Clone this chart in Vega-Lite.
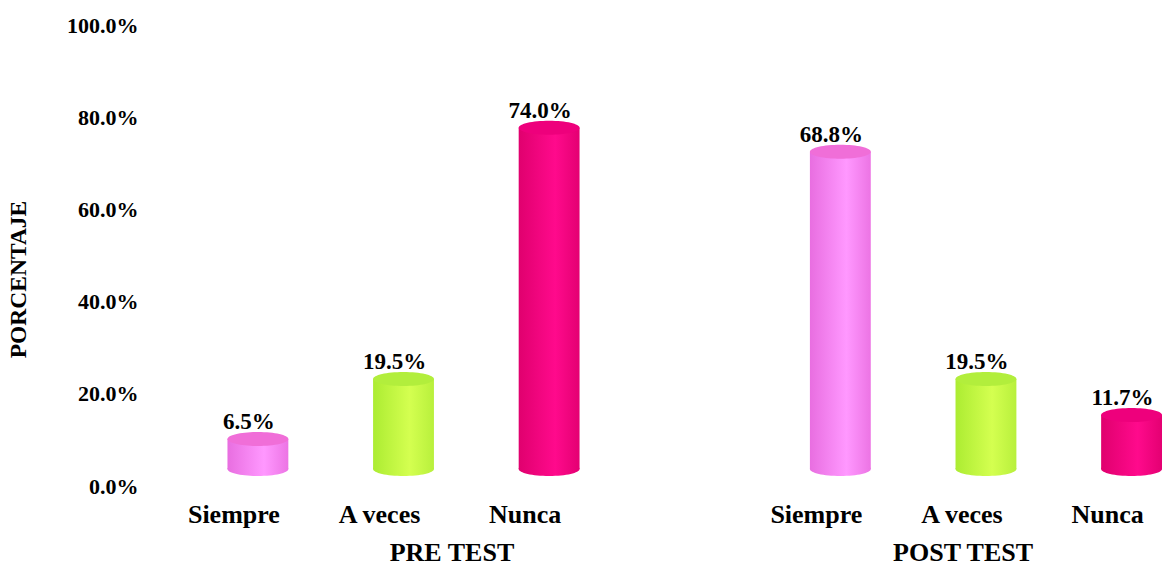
{
  "$schema": "https://vega.github.io/schema/vega-lite/v6.json",
  "width": 1012,
  "height": 461,
  "autosize": {"type": "none"},
  "padding": {"left": 150, "top": 25, "right": 0, "bottom": 80},
  "background": "white",
  "config": {"view": {"stroke": null}, "font": "Liberation Serif"},
  "data": {
    "values": [
      {"test": "PRE TEST", "category": "Siempre", "slot": "PRE|Siempre", "share": 0.065},
      {"test": "PRE TEST", "category": "A veces", "slot": "PRE|A veces", "share": 0.195},
      {"test": "PRE TEST", "category": "Nunca", "slot": "PRE|Nunca", "share": 0.74},
      {"test": "POST TEST", "category": "Siempre", "slot": "POST|Siempre", "share": 0.688},
      {"test": "POST TEST", "category": "A veces", "slot": "POST|A veces", "share": 0.195},
      {"test": "POST TEST", "category": "Nunca", "slot": "POST|Nunca", "share": 0.117}
    ]
  },
  "resolve": {
    "scale": {"x": "independent", "y": "independent"},
    "axis": {"x": "independent", "y": "independent"}
  },
  "layer": [
    {
      "mark": {"type": "rule", "strokeOpacity": 0},
      "encoding": {
        "y": {
          "field": "share",
          "type": "quantitative",
          "scale": {"domain": [0, 1], "nice": false},
          "axis": {
            "values": [0, 0.2, 0.4, 0.6, 0.8, 1],
            "format": ".1%",
            "labelFont": "Liberation Serif",
            "labelFontSize": 22,
            "labelFontWeight": "bold",
            "labelColor": "black",
            "labelPadding": 12,
            "ticks": false,
            "tickSize": 0,
            "domain": false,
            "grid": false,
            "title": "PORCENTAJE",
            "titleFont": "Liberation Serif",
            "titleFontSize": 23.5,
            "titleFontWeight": "bold",
            "titleColor": "black",
            "titlePadding": 36,
            "titleY": 254
          }
        }
      }
    },
    {
      "encoding": {
        "x": {
          "field": "slot",
          "type": "nominal",
          "sort": null,
          "scale": {
            "domain": ["PRE|Siempre", "PRE|A veces", "PRE|Nunca", "gap|", "POST|Siempre", "POST|A veces", "POST|Nunca"],
            "paddingInner": 0.582,
            "paddingOuter": 0.266,
            "align": 1
          },
          "axis": {
            "title": null,
            "labelExpr": "split(datum.label, '|')[1]",
            "labelFont": "Liberation Serif",
            "labelFontSize": 26,
            "labelFontWeight": "bold",
            "labelColor": "black",
            "labelAngle": 0,
            "labelPadding": 15,
            "labelOffset": -24,
            "ticks": false,
            "tickSize": 0,
            "domain": false,
            "grid": false
          }
        },
        "y": {
          "field": "share",
          "type": "quantitative",
          "scale": {"domain": [-0.037, 0.963], "nice": false, "zero": false},
          "axis": null
        }
      },
      "layer": [
        {
          "transform": [{"filter": "datum.category === 'Siempre'"}],
          "layer": [
            {
              "mark": {
                "type": "point", "filled": true, "opacity": 1, "strokeWidth": 0, "size": 3709,
                "shape": "M-1,0C-1,0.127,-0.552,0.23,0,0.23C0.552,0.23,1,0.127,1,0C1,-0.127,0.552,-0.23,0,-0.23C-0.552,-0.23,-1,-0.127,-1,0Z",
                "fill": {"gradient": "linear", "x1": 0, "x2": 1, "y1": 0, "y2": 0,
                  "stops": [{"offset": 0, "color": "#E86EE0"}, {"offset": 0.6, "color": "#FF98FF"}, {"offset": 1, "color": "#EC74E4"}]}
              },
              "encoding": {"y": {"datum": 0}}
            },
            {
              "mark": {
                "type": "bar",
                "fill": {"gradient": "linear", "x1": 0, "x2": 1, "y1": 0, "y2": 0,
                  "stops": [{"offset": 0, "color": "#E86EE0"}, {"offset": 0.6, "color": "#FF98FF"}, {"offset": 1, "color": "#EC74E4"}]}
              },
              "encoding": {"y2": {"datum": 0}}
            },
            {
              "mark": {
                "type": "point", "filled": true, "opacity": 1, "strokeWidth": 0, "size": 3709,
                "shape": "M-1,0C-1,0.127,-0.552,0.23,0,0.23C0.552,0.23,1,0.127,1,0C1,-0.127,0.552,-0.23,0,-0.23C-0.552,-0.23,-1,-0.127,-1,0Z",
                "fill": "#F06ED8"
              }
            }
          ]
        },
        {
          "transform": [{"filter": "datum.category === 'A veces'"}],
          "layer": [
            {
              "mark": {
                "type": "point", "filled": true, "opacity": 1, "strokeWidth": 0, "size": 3709,
                "shape": "M-1,0C-1,0.127,-0.552,0.23,0,0.23C0.552,0.23,1,0.127,1,0C1,-0.127,0.552,-0.23,0,-0.23C-0.552,-0.23,-1,-0.127,-1,0Z",
                "fill": {"gradient": "linear", "x1": 0, "x2": 1, "y1": 0, "y2": 0,
                  "stops": [{"offset": 0, "color": "#ACEC32"}, {"offset": 0.6, "color": "#D4FF50"}, {"offset": 1, "color": "#B8F03C"}]}
              },
              "encoding": {"y": {"datum": 0}}
            },
            {
              "mark": {
                "type": "bar",
                "fill": {"gradient": "linear", "x1": 0, "x2": 1, "y1": 0, "y2": 0,
                  "stops": [{"offset": 0, "color": "#ACEC32"}, {"offset": 0.6, "color": "#D4FF50"}, {"offset": 1, "color": "#B8F03C"}]}
              },
              "encoding": {"y2": {"datum": 0}}
            },
            {
              "mark": {
                "type": "point", "filled": true, "opacity": 1, "strokeWidth": 0, "size": 3709,
                "shape": "M-1,0C-1,0.127,-0.552,0.23,0,0.23C0.552,0.23,1,0.127,1,0C1,-0.127,0.552,-0.23,0,-0.23C-0.552,-0.23,-1,-0.127,-1,0Z",
                "fill": "#B2EE3C"
              }
            }
          ]
        },
        {
          "transform": [{"filter": "datum.category === 'Nunca'"}],
          "layer": [
            {
              "mark": {
                "type": "point", "filled": true, "opacity": 1, "strokeWidth": 0, "size": 3709,
                "shape": "M-1,0C-1,0.127,-0.552,0.23,0,0.23C0.552,0.23,1,0.127,1,0C1,-0.127,0.552,-0.23,0,-0.23C-0.552,-0.23,-1,-0.127,-1,0Z",
                "fill": {"gradient": "linear", "x1": 0, "x2": 1, "y1": 0, "y2": 0,
                  "stops": [{"offset": 0, "color": "#E0006E"}, {"offset": 0.6, "color": "#FF0A8C"}, {"offset": 1, "color": "#E40072"}]}
              },
              "encoding": {"y": {"datum": 0}}
            },
            {
              "mark": {
                "type": "bar",
                "fill": {"gradient": "linear", "x1": 0, "x2": 1, "y1": 0, "y2": 0,
                  "stops": [{"offset": 0, "color": "#E0006E"}, {"offset": 0.6, "color": "#FF0A8C"}, {"offset": 1, "color": "#E40072"}]}
              },
              "encoding": {"y2": {"datum": 0}}
            },
            {
              "mark": {
                "type": "point", "filled": true, "opacity": 1, "strokeWidth": 0, "size": 3709,
                "shape": "M-1,0C-1,0.127,-0.552,0.23,0,0.23C0.552,0.23,1,0.127,1,0C1,-0.127,0.552,-0.23,0,-0.23C-0.552,-0.23,-1,-0.127,-1,0Z",
                "fill": "#EE007C"
              }
            }
          ]
        },
        {
          "mark": {
            "type": "text",
            "font": "Liberation Serif",
            "fontSize": 23,
            "fontWeight": "bold",
            "color": "black",
            "baseline": "alphabetic",
            "dx": -9,
            "dy": -10
          },
          "encoding": {"text": {"field": "share", "type": "quantitative", "format": ".1%"}}
        }
      ]
    },
    {
      "mark": {"type": "rule", "strokeOpacity": 0},
      "encoding": {
        "x": {
          "field": "test",
          "type": "nominal",
          "sort": null,
          "scale": {"domain": ["PRE TEST", "POST TEST"], "paddingInner": 0.5, "paddingOuter": 0.24, "align": 0.71},
          "axis": {
            "orient": "bottom",
            "title": null,
            "labelFont": "Liberation Serif",
            "labelFontSize": 26,
            "labelFontWeight": "bold",
            "labelColor": "black",
            "labelAngle": 0,
            "labelPadding": 53,
            "ticks": false,
            "tickSize": 0,
            "domain": false,
            "grid": false
          }
        }
      }
    }
  ]
}
